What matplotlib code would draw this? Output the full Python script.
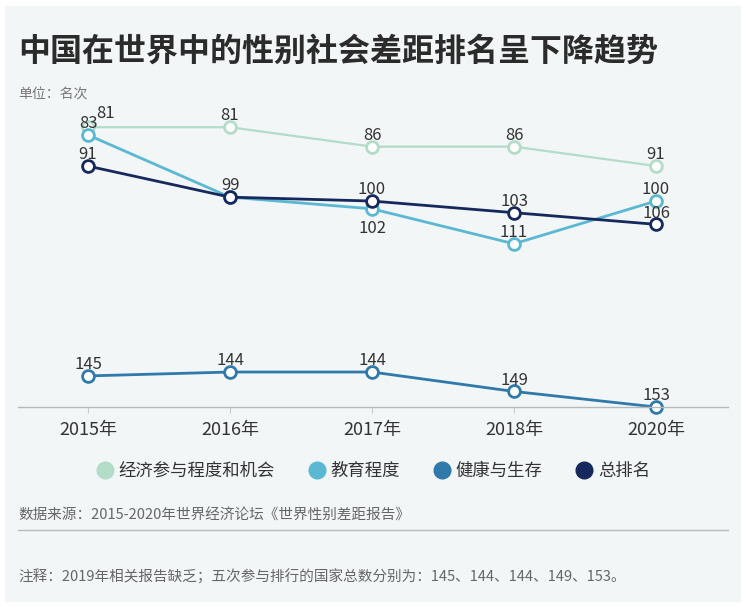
import matplotlib
matplotlib.use("Agg")
import matplotlib.pyplot as plt
from matplotlib.patches import Rectangle
from matplotlib.lines import Line2D

plt.rcParams['font.family'] = ['Noto Sans CJK SC', 'DejaVu Sans']

years = ["2015年", "2016年", "2017年", "2018年", "2020年"]
series_names = ["经济参与程度和机会", "教育程度", "健康与生存", "总排名"]
econ = [81, 81, 86, 86, 91]
edu = [83, 99, 102, 111, 100]
health = [145, 144, 144, 149, 153]
overall = [91, 99, 100, 103, 106]
colors = ["#b3dcc9", "#5bb8d3", "#2f79ab", "#17295c"]

W, H = 748, 608
fig = plt.figure(figsize=(W / 100, H / 100), dpi=100, facecolor="white")
bg = "#f3f6f7"
fig.patches.append(Rectangle((5 / W, 1 - 602 / H), 736 / W, 596 / H,
                             transform=fig.transFigure, facecolor=bg,
                             edgecolor="none", zorder=-10))

def fx(px):
    return px / W

def fy(py):
    return 1 - py / H

ax = fig.add_axes([fx(18), fy(407), fx(728) - fx(18), fy(100) - fy(407)])
ax.set_facecolor("none")
x = list(range(len(years)))
ax.set_xlim(-0.493, 4.507)
ax.set_ylim(153, 74.0)

all_series = [econ, edu, health, overall]
widths = [1.6, 2.0, 2.0, 2.0]
for vals, c, lw in zip(all_series, colors, widths):
    ax.plot(x, vals, color=c, lw=lw, marker="o", ms=8.5, mfc="white",
            mec=c, mew=2.0, clip_on=False, solid_capstyle="round")

# label placements (offset in points): (dx, dy)
above = (0, 2)
below = (0, -20)
placements = [
    [(13, 4), above, above, above, above],
    [above, None, below, above, above],
    [above, above, above, above, above],
    [above, above, above, above, above],
]
for vals, pl in zip(all_series, placements):
    for xi, v, p in zip(x, vals, pl):
        if p is None:
            continue
        ax.annotate(str(v), (xi, v), xytext=p, textcoords="offset points",
                    ha="center", va="bottom", fontsize=12, color="#333333",
                    annotation_clip=False)

for s in ["top", "right", "left"]:
    ax.spines[s].set_visible(False)
ax.spines["bottom"].set_color("#b5b9bc")
ax.spines["bottom"].set_linewidth(1.0)
ax.set_yticks([])
ax.set_xticks(x)
ax.set_xticklabels(years, fontsize=13, color="#333333")
ax.tick_params(axis="x", length=4, color="#c8cbcd", pad=6)

# Title and texts
fig.text(fx(18), fy(52), "中国在世界中的性别社会差距排名呈下降趋势", fontsize=23,
         fontweight="bold", color="#2b2b2b", va="center", ha="left")
fig.text(fx(18), fy(95), "单位：名次", fontsize=10, color="#777777",
         va="center", ha="left")

# Legend
handles = [Line2D([], [], ls="none", marker="o", ms=12, mfc=c, mec=c)
           for c in colors]
leg = fig.legend(handles, series_names, loc="center", ncol=4,
                 bbox_to_anchor=(fx(373), fy(471)), frameon=False,
                 fontsize=12.5, handletextpad=0.3, columnspacing=1.9,
                 handlelength=1.0, labelcolor="#333333")

fig.text(fx(18), fy(516), "数据来源：2015-2020年世界经济论坛《世界性别差距报告》",
         fontsize=10.5, color="#666666", va="center", ha="left")
fig.add_artist(Line2D([fx(18), fx(728)], [fy(530), fy(530)],
                      transform=fig.transFigure, color="#b8bcbf", lw=1))
fig.text(fx(18), fy(577),
         "注释：2019年相关报告缺乏；五次参与排行的国家总数分别为：145、144、144、149、153。",
         fontsize=10.5, color="#666666", va="center", ha="left")

fig.savefig("out.png", dpi=100, facecolor="white")
